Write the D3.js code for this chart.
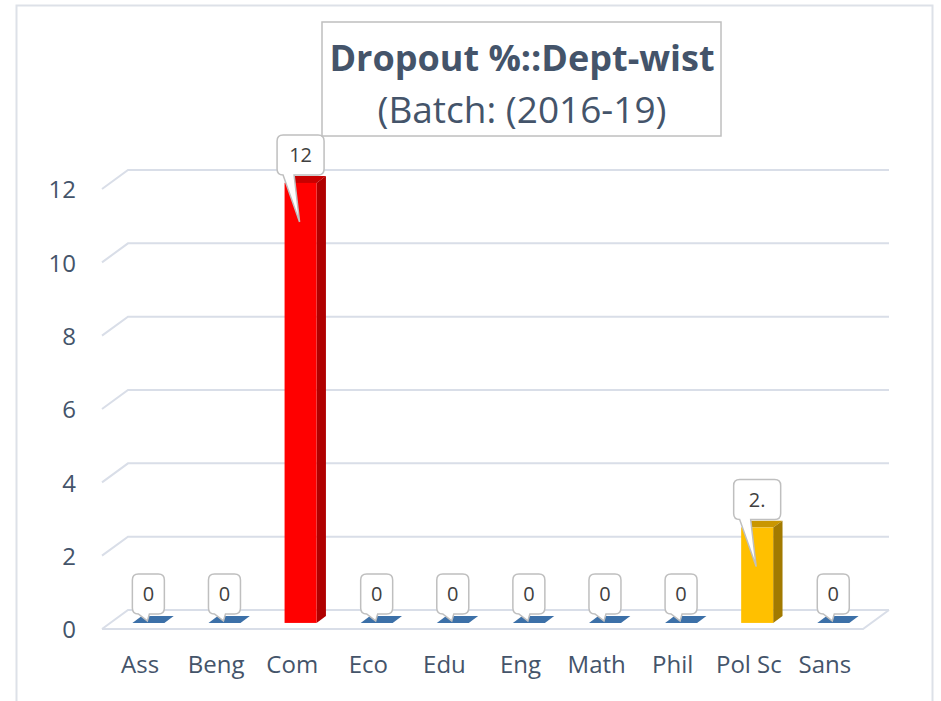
<!DOCTYPE html>
<html lang="en">
<head>
<meta charset="utf-8">
<title>Dropout %::Dept-wist</title>
<script src="https://d3js.org/d3.v7.min.js"></script>
<style>
  body { margin: 0; background: #fff; }
  text { font-family: "Open Sans", "Noto Sans", sans-serif; }
</style>
</head>
<body>
<svg></svg>
<script>
// data
var categories = ["Ass", "Beng", "Com", "Eco", "Edu", "Eng", "Math", "Phil", "Pol Sc", "Sans"];
var dropout = [0, 0, 12, 0, 0, 0, 0, 0, 2.6, 0];
var valueLabels = ["0", "0", "12", "0", "0", "0", "0", "0", "2.", "0"];
var yTicks = [0, 2, 4, 6, 8, 10, 12];

var w = 941, h = 701;
var svg = d3.select("svg").attr("width", w).attr("height", h);

// 3d depth of the plot floor
var DX = 26, DY = -19;
var f1 = 0.32, f2 = 0.68;   // where the bars sit inside the depth

var x = d3.scaleBand().domain(categories).range([102, 863]);
var y = d3.scaleLinear().domain([0, 12]).range([629, 189]);

var grid = "#d9dee8";
var ink = "#44546a";

// outer frame
svg.append("rect")
   .attr("x", 16.5).attr("y", 5.5)
   .attr("width", 916).attr("height", 720)
   .attr("fill", "none").attr("stroke", "#dde1e8").attr("stroke-width", 2);

// gridlines: side wall stub + back wall line
var x0 = x.range()[0], x1 = x.range()[1];
svg.selectAll("path.grid")
   .data(yTicks)
   .enter().append("path")
   .attr("class", "grid")
   .attr("fill", "none").attr("stroke", grid).attr("stroke-width", 2)
   .attr("d", v => `M${x0},${y(v)}L${x0 + DX},${y(v) + DY}L${x1 + DX},${y(v) + DY}`);

// floor front edge and right edge
svg.append("path")
   .attr("fill", "none").attr("stroke", grid).attr("stroke-width", 2)
   .attr("d", `M${x0},${y(0)}L${x1},${y(0)}L${x1 + DX},${y(0) + DY}`);

// y axis labels
var yAxis = d3.axisLeft(y).tickValues(yTicks).tickSize(0).tickPadding(0);
var ya = svg.append("g").attr("transform", "translate(76,1)").call(yAxis);
ya.select(".domain").remove();
ya.selectAll("text")
  .attr("font-size", 24).attr("fill", ink)
  .style("font-family", "'Open Sans', sans-serif");

// x axis labels
var xAxis = d3.axisBottom(x).tickSize(0).tickPadding(0);
var xa = svg.append("g").attr("transform", "translate(0,656)").call(xAxis);
xa.select(".domain").remove();
xa.selectAll("text")
  .attr("font-size", 24).attr("fill", ink)
  .style("font-family", "'Open Sans', sans-serif");

// bars
var palette = {
  "Com":    { front: "#ff0000", side: "#b00000", top: "#c80000" },
  "Pol Sc": { front: "#ffc000", side: "#a27a00", top: "#c99600" }
};
var flat = { front: "#3c70a8", side: "#2f5b8a", top: "#3c70a8" };

var bw = 32;
var bars = categories.map((c, i) => {
  var col = palette[c] || flat;
  var left = x(c) + (x.bandwidth() - bw) / 2 + f1 * DX;
  var bottom = y(0) + f1 * DY;
  var top = y(dropout[i]) + f1 * DY;
  var ddx = (f2 - f1) * DX, ddy = (f2 - f1) * DY;
  return { c: c, v: dropout[i], label: valueLabels[i], col: col,
           left: left, bottom: bottom, top: top, ddx: ddx, ddy: ddy };
});

var g = svg.append("g");
bars.forEach(b => {
  var r = b.left + bw;
  // top face
  g.append("path")
   .attr("fill", b.col.top)
   .attr("d", `M${b.left},${b.top}L${r},${b.top}L${r + b.ddx},${b.top + b.ddy}L${b.left + b.ddx},${b.top + b.ddy}Z`);
  if (b.v > 0) {
    // side face
    g.append("path")
     .attr("fill", b.col.side)
     .attr("d", `M${r},${b.top}L${r + b.ddx},${b.top + b.ddy}L${r + b.ddx},${b.bottom + b.ddy}L${r},${b.bottom}Z`);
    // front face
    g.append("rect")
     .attr("x", b.left).attr("y", b.top)
     .attr("width", bw).attr("height", b.bottom - b.top)
     .attr("fill", b.col.front);
  }
});

// callout labels
bars.forEach(b => {
  var cx = b.left + bw / 2;
  var bwid = b.label.length > 1 ? 47 : 32;
  var bh = 40;
  var boxBottom = Math.min(b.top - 8, 614);
  var boxTop = boxBottom - bh;
  var L = cx - bwid / 2, R = cx + bwid / 2, rr = 6;
  var tipX = cx - 1;
  var tipY = b.v > 0 ? boxBottom + 47 : b.bottom - 2;
  var t1 = L + 6, t2 = L + 17;
  var d = `M${L + rr},${boxTop}L${R - rr},${boxTop}Q${R},${boxTop} ${R},${boxTop + rr}` +
          `L${R},${boxBottom - rr}Q${R},${boxBottom} ${R - rr},${boxBottom}` +
          `L${t2},${boxBottom}L${tipX},${tipY}L${t1},${boxBottom}` +
          `L${L + rr},${boxBottom}Q${L},${boxBottom} ${L},${boxBottom - rr}` +
          `L${L},${boxTop + rr}Q${L},${boxTop} ${L + rr},${boxTop}Z`;
  svg.append("path")
     .attr("d", d)
     .attr("fill", "#fff").attr("stroke", "#bfbfbf").attr("stroke-width", 1.5);
  svg.append("text")
     .attr("x", cx).attr("y", boxTop + bh / 2 + 7)
     .attr("text-anchor", "middle")
     .attr("font-size", 20).attr("fill", "#404040")
     .text(b.label);
});

// title box
svg.append("rect")
   .attr("x", 322).attr("y", 22)
   .attr("width", 399).attr("height", 114)
   .attr("fill", "#fff").attr("stroke", "#bfbfbf").attr("stroke-width", 1.5);
svg.append("text")
   .attr("x", 522).attr("y", 71)
   .attr("text-anchor", "middle")
   .attr("font-size", 36).attr("font-weight", "bold").attr("fill", ink)
   .text("Dropout %::Dept-wist");
svg.append("text")
   .attr("x", 522).attr("y", 123)
   .attr("text-anchor", "middle")
   .attr("font-size", 37).attr("fill", ink)
   .text("(Batch: (2016-19)");
</script>
</body>
</html>
